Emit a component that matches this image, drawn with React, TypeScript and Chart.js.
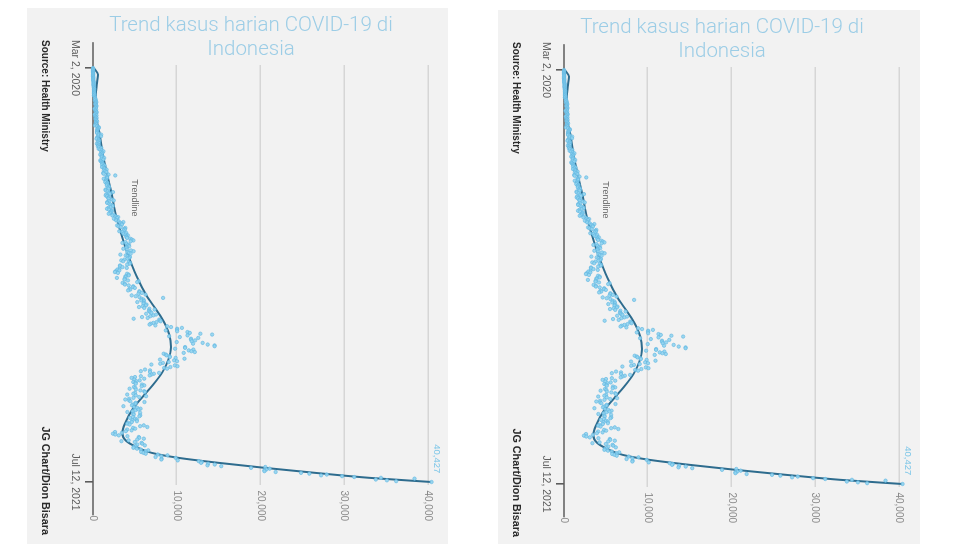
import React, { useEffect, useRef } from "react";
import { Chart, registerables } from "chart.js";
Chart.register(...registerables);

// Daily new cases, Mar 2 2020 -> Jul 12 2021 (one value per day)
const mar2020 = [2,0,0,0,2,0,2,13,8,7,0,35,27,21,17,38,55,82,60,81,64,65,107,104,103,153,109,130,129,114];
const apr2020 = [149,113,196,106,181,218,247,218,337,219,330,399,316,282,297,380,407,325,327,185,375,283,357,436,396,275,214,415,260,347];
const may2020 = [433,292,349,395,484,367,338,336,387,233,484,689,689,568,490,529,489,496,486,693,973,634,949,526,479,415,686,687,678,557,700];
const jun2020 = [467,609,684,585,703,993,672,847,1043,1241,979,1111,1014,857,1017,1106,1031,1331,1041,1226,862,954,1051,1113,1178,1082,1385,1198,1082,1293];
const jul2020 = [1385,1624,1301,1447,1607,1209,1268,1853,2657,1611,1671,1681,1282,1591,1522,1574,1462,1752,1639,1693,1655,1882,1906,1761,1868,1492,1525,1748,2381,1904,2040];
const aug2020 = [1560,1519,1679,1922,1815,1882,2277,2473,1893,1687,1693,1942,2098,2307,2345,2081,1821,1673,1902,2266,2197,2090,2037,1877,2447,2306,2719,3003,2858,2495,2743];
const sep2020 = [2775,3075,3622,3269,3444,3444,2880,3046,3307,3861,3737,3806,3636,3141,3507,3963,3635,3891,4168,3989,3989,4071,4465,4634,4823,4494,3874,3509,4002,4284];
const oct2020 = [4174,4317,4007,3992,3622,4056,4538,4850,4094,4294,4497,3267,3906,4127,4411,4301,4105,3732,3373,3602,4267,4432,4369,4070,3222,3222,3520,4029,3143,2897,3143];
const nov2020 = [2696,2618,2973,4065,4262,4262,3880,3880,2853,3779,3770,4173,5444,5272,3535,3807,3807,4265,4798,4792,4998,4360,4442,4192,5534,5534,5828,5418,6267,4617];
const dec2020 = [5092,5533,8369,5803,6027,5754,6089,5292,6058,6033,6388,6310,5942,5489,6120,6726,7354,6689,6725,6848,6982,6347,7514,7199,6837,5854,6528,4854,7903,8002,8074];
const jan2021 = [7584,7203,6877,6753,7445,8854,9321,10617,10046,10046,8692,10047,11278,11557,12818,14224,11287,9086,10365,12568,11703,11703,12191,11788,9994,13094,11948,13695,14518,14518,10994];
const feb2021 = [10994,9802,11984,11434,11749,12156,10827,8435,8700,8776,9140,9174,9869,10921,8002,9687,10029,9039,8347,8025,6969,9775,10084,9236,8493,8842,6208,6807];
const mar2021 = [5712,6808,7893,7264,6971,6767,5714,5012,4607,6114,4935,5575,5177,4809,5046,5113,5854,6115,5810,4883,5048,4369,5123,5653,6118,6190,5021,4816,4082,5103,6337];
const apr2021 = [5514,4826,4311,3854,4311,4460,6142,5097,5050,4773,4658,3627,4904,5282,5675,5424,5041,4722,4101,5627,4796,4862,5636,5534,4757,4402,5028,5241,4694,5242];
const may2021 = [4630,4212,4081,4369,6060,5627,6486,4789,5031,4073,4608,3922,2633,3448,2385,2662,3080,4108,5465,5523,6070,5277,4252,3391,4989,5797,5878,5294,6189,5073,4863];
const jun2021 = [4824,5246,5701,6594,6278,5751,6032,6294,7725,8892,8161,7465,9868,8189,8161,10119,12624,12990,12906,13737,14536,13668,15308,20574,18872,21095,20694,20467,20467,21807];
const jul2021 = [24836,25830,27913,27233,29745,31189,34379,38391,33772,35094,36197,40427];

const monthlyCases = [mar2020, apr2020, may2020, jun2020, jul2020, aug2020, sep2020, oct2020, nov2020, dec2020,
  jan2021, feb2021, mar2021, apr2021, may2021, jun2021, jul2021];

// Trendline (day index since Mar 2 2020 -> cases)
const trendDays = [0, 8, 20, 40, 60, 80, 100, 125, 150, 175, 200, 225, 250, 275, 300, 320, 335, 350, 365, 380, 395, 410, 425, 438, 448, 456, 462, 468, 474, 480, 486, 492, 497];
const trendValues = [100, 600, 450, 300, 400, 800, 1100, 1600, 2200, 2700, 3400, 4200, 5200, 6500, 8200, 9100, 9300, 9000, 8300, 7200, 5900, 4700, 3900, 3500, 4000, 5400, 7000, 10200, 15000, 20500, 26500, 33000, 40400];

const dateTickDays = [0, 497];
const dateTickLabels = ["Mar 2, 2020", "Jul 12, 2021"];
const valueTicks = [0, 10000, 20000, 30000, 40000];
const lastValueLabel = "40,427";
const trendLabel = "Trendline";
const titleLines = ["Trend kasus harian COVID-19 di", "Indonesia"];
const sourceText = "Source: Health Ministry";
const creditText = "JG Chart/Dion Bisara";

const W = 536; // unrotated canvas width (becomes panel height)
const H = 421; // unrotated canvas height (becomes panel width)

const fmt = (v: number) => String(v).replace(/\B(?=(\d{3})+(?!\d))/g, ",");

function Panel({ left, top, width, height }: { left: number; top: number; width: number; height: number }) {
  const ref = useRef<HTMLCanvasElement>(null);
  useEffect(() => {
    if (!ref.current) return;
    const daily = monthlyCases.flat();
    const points = daily.map((v, i) => ({ x: i, y: v }));
    const trend = trendDays.map((d, i) => ({ x: d, y: trendValues[i] }));

    const decor = {
      id: "decor",
      beforeDatasetsDraw(chart: any) {
        const { ctx, scales } = chart;
        const y0 = scales.y.getPixelForValue(0);
        ctx.save();
        ctx.strokeStyle = "#5c5c5c";
        ctx.lineWidth = 1.6;
        ctx.beginPath();
        ctx.moveTo(scales.x.getPixelForValue(-31), y0);
        ctx.lineTo(scales.x.getPixelForValue(537), y0);
        ctx.stroke();
        ctx.restore();
      },
      afterDatasetsDraw(chart: any) {
        const { ctx, scales } = chart;
        ctx.save();
        ctx.textBaseline = "middle";
        ctx.font = "9px 'Liberation Sans', Arial, sans-serif";
        ctx.fillStyle = "#666";
        ctx.textAlign = "center";
        ctx.fillText(trendLabel, scales.x.getPixelForValue(156), scales.y.getPixelForValue(5000));
        ctx.fillStyle = "#7cc6e8";
        ctx.font = "9.5px 'Liberation Sans', Arial, sans-serif";
        ctx.textAlign = "right";
        ctx.fillText(lastValueLabel, scales.x.getPixelForValue(486.5), scales.y.getPixelForValue(41000));
        ctx.fillStyle = "#2a2a2a";
        ctx.font = "bold 10px 'Liberation Sans', Arial, sans-serif";
        ctx.textAlign = "left";
        ctx.fillText(sourceText, 32, chart.height - 18);
        ctx.font = "bold 10.8px 'Liberation Sans', Arial, sans-serif";
        ctx.textAlign = "right";
        ctx.fillText(creditText, chart.width - 9, chart.height - 18);
        ctx.restore();
      },
    };

    const chart = new Chart(ref.current, {
      type: "scatter",
      data: {
        datasets: [
          {
            type: "scatter",
            data: points,
            pointRadius: 1.7,
            pointBackgroundColor: "rgba(145,212,240,0.9)",
            pointBorderColor: "rgba(95,182,225,0.9)",
            pointBorderWidth: 0.7,
            clip: false,
          } as any,
          {
            type: "line",
            data: trend,
            borderColor: "#2e6c8e",
            borderWidth: 2,
            pointRadius: 0,
            cubicInterpolationMode: "monotone",
            fill: false,
            clip: false,
          } as any,
        ],
      },
      options: {
        responsive: false,
        animation: false,
        events: [],
        layout: { padding: { left: 57, top: 20, right: 23, bottom: 36 } },
        plugins: { legend: { display: false }, tooltip: { enabled: false }, title: { display: false } },
        scales: {
          x: {
            type: "linear",
            position: "bottom",
            min: -3.6,
            max: 500.6,
            afterBuildTicks: (scale: any) => {
              scale.ticks = dateTickDays.map((v) => ({ value: v }));
            },
            afterFit: (scale: any) => {
              scale.height = 30;
            },
            ticks: {
              autoSkip: false,
              maxRotation: 0,
              minRotation: 0,
              padding: 4,
              color: "#5a5a5a",
              font: { family: "'Liberation Sans', Arial, sans-serif", size: 10.5 },
              callback: (_v: any, i: number) => dateTickLabels[i],
            },
            grid: { display: true, drawOnChartArea: false, drawTicks: true, tickLength: 8, color: "#5c5c5c", lineWidth: 1.6 },
            border: { display: false },
          },
          y: {
            type: "linear",
            position: "right",
            min: 0,
            max: 40000,
            afterBuildTicks: (scale: any) => {
              scale.ticks = valueTicks.map((v) => ({ value: v }));
            },
            afterFit: (scale: any) => {
              scale.width = 36;
            },
            ticks: {
              crossAlign: "far",
              padding: 5,
              color: "#8a8a8a",
              font: { family: "'Liberation Sans', Arial, sans-serif", size: 10 },
              callback: (v: any) => fmt(Number(v)),
            },
            grid: {
              drawTicks: false,
              lineWidth: 1.5,
              color: (c: any) => (c.tick && c.tick.value === 0 ? "rgba(0,0,0,0)" : "#d6d6d6"),
            },
            border: { display: false },
          },
        },
      } as any,
      plugins: [decor],
    });
    return () => chart.destroy();
  }, []);

  return (
    <div style={{ position: "absolute", left, top, width, height, background: "#f2f2f2", overflow: "hidden" }}>
      <div
        style={{
          position: "absolute",
          left: 0,
          top: 0,
          width: W,
          height: H,
          transformOrigin: "0 0",
          transform: `translate(${H}px, 0px) rotate(90deg)`,
        }}
      >
        <canvas ref={ref} width={W} height={H} style={{ display: "block", width: W, height: H }} />
      </div>
      <div
        style={{
          position: "absolute",
          left: 24,
          top: 4,
          width: 400,
          textAlign: "center",
          fontFamily: "Roboto, 'Noto Sans', sans-serif",
          fontWeight: 300,
          fontSize: 20.5,
          lineHeight: "24px",
          color: "#9ccde6",
          pointerEvents: "none",
        }}
      >
        {titleLines.map((t, i) => (
          <div key={i}>{t}</div>
        ))}
      </div>
    </div>
  );
}

export default function App() {
  return (
    <div style={{ position: "absolute", left: 0, top: 0, width: 970, height: 544, background: "#fff", overflow: "hidden" }}>
      <Panel left={27} top={8} width={421} height={536} />
      <Panel left={498} top={10} width={422} height={534} />
    </div>
  );
}
